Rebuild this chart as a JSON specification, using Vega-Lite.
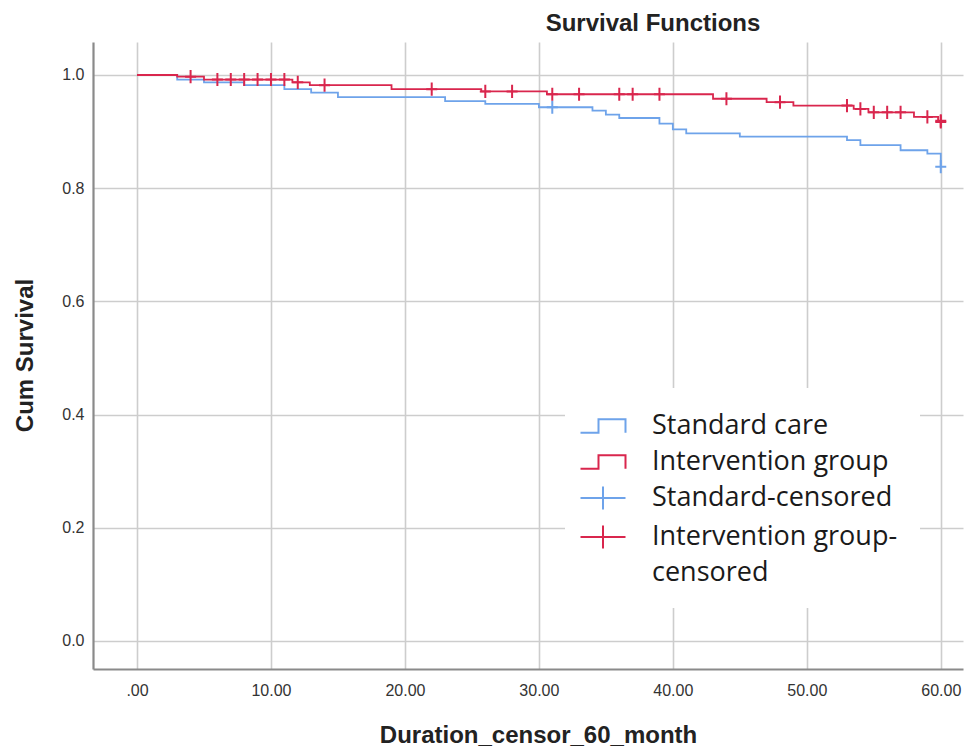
{
  "$schema": "https://vega.github.io/schema/vega-lite/v6.json",
  "autosize": {"type": "none"},
  "padding": {"left": 93, "top": 42, "right": 6, "bottom": 80},
  "width": 870,
  "height": 627,
  "background": "white",
  "title": {
    "text": "Survival Functions",
    "font": "Liberation Sans",
    "fontSize": 24,
    "fontWeight": "bold",
    "color": "#222222",
    "anchor": "middle",
    "dx": 125,
    "offset": 6
  },
  "config": {
    "view": {"stroke": null},
    "axis": {
      "labelFont": "Liberation Sans",
      "labelFontSize": 16,
      "labelColor": "#333333",
      "titleFont": "Liberation Sans",
      "titleFontSize": 24,
      "titleFontWeight": "bold",
      "titleColor": "#222222",
      "gridColor": "#cdcdcd",
      "gridWidth": 1.6,
      "domainColor": "#8a8a8a",
      "domainWidth": 2.2,
      "ticks": false
    }
  },
  "datasets": {
    "curves": [
      {"series": "Standard care", "t": 0, "s": 1.0},
      {"series": "Standard care", "t": 3, "s": 0.992},
      {"series": "Standard care", "t": 5, "s": 0.987},
      {"series": "Standard care", "t": 8, "s": 0.982},
      {"series": "Standard care", "t": 11, "s": 0.975},
      {"series": "Standard care", "t": 13, "s": 0.969},
      {"series": "Standard care", "t": 15, "s": 0.961},
      {"series": "Standard care", "t": 23, "s": 0.954},
      {"series": "Standard care", "t": 26, "s": 0.949},
      {"series": "Standard care", "t": 30, "s": 0.943},
      {"series": "Standard care", "t": 34, "s": 0.937},
      {"series": "Standard care", "t": 35, "s": 0.930},
      {"series": "Standard care", "t": 36, "s": 0.924},
      {"series": "Standard care", "t": 39, "s": 0.914},
      {"series": "Standard care", "t": 40, "s": 0.904},
      {"series": "Standard care", "t": 41, "s": 0.897},
      {"series": "Standard care", "t": 45, "s": 0.891},
      {"series": "Standard care", "t": 53, "s": 0.885},
      {"series": "Standard care", "t": 54, "s": 0.876},
      {"series": "Standard care", "t": 57, "s": 0.867},
      {"series": "Standard care", "t": 59, "s": 0.861},
      {"series": "Standard care", "t": 60, "s": 0.838},
      {"series": "Intervention group", "t": 0, "s": 1.0},
      {"series": "Intervention group", "t": 3, "s": 0.997},
      {"series": "Intervention group", "t": 5, "s": 0.992},
      {"series": "Intervention group", "t": 11.6, "s": 0.987},
      {"series": "Intervention group", "t": 12.9, "s": 0.982},
      {"series": "Intervention group", "t": 19, "s": 0.975},
      {"series": "Intervention group", "t": 25.7, "s": 0.971},
      {"series": "Intervention group", "t": 30.6, "s": 0.966},
      {"series": "Intervention group", "t": 43, "s": 0.958},
      {"series": "Intervention group", "t": 47, "s": 0.952},
      {"series": "Intervention group", "t": 49, "s": 0.946},
      {"series": "Intervention group", "t": 53.5, "s": 0.940},
      {"series": "Intervention group", "t": 54.6, "s": 0.934},
      {"series": "Intervention group", "t": 58, "s": 0.926},
      {"series": "Intervention group", "t": 59.8, "s": 0.919},
      {"series": "Intervention group", "t": 60, "s": 0.919}
    ],
    "censored": [
      {"series": "Standard-censored", "t": 31, "s": 0.943},
      {"series": "Standard-censored", "t": 60, "s": 0.838},
      {"series": "Intervention group-censored", "t": 4, "s": 0.997},
      {"series": "Intervention group-censored", "t": 6, "s": 0.992},
      {"series": "Intervention group-censored", "t": 7, "s": 0.992},
      {"series": "Intervention group-censored", "t": 8, "s": 0.992},
      {"series": "Intervention group-censored", "t": 9, "s": 0.992},
      {"series": "Intervention group-censored", "t": 10, "s": 0.992},
      {"series": "Intervention group-censored", "t": 11, "s": 0.992},
      {"series": "Intervention group-censored", "t": 12, "s": 0.987},
      {"series": "Intervention group-censored", "t": 14, "s": 0.982},
      {"series": "Intervention group-censored", "t": 22, "s": 0.975},
      {"series": "Intervention group-censored", "t": 26, "s": 0.971},
      {"series": "Intervention group-censored", "t": 28, "s": 0.971},
      {"series": "Intervention group-censored", "t": 31, "s": 0.966},
      {"series": "Intervention group-censored", "t": 33, "s": 0.966},
      {"series": "Intervention group-censored", "t": 36, "s": 0.966},
      {"series": "Intervention group-censored", "t": 37, "s": 0.966},
      {"series": "Intervention group-censored", "t": 39, "s": 0.966},
      {"series": "Intervention group-censored", "t": 44, "s": 0.958},
      {"series": "Intervention group-censored", "t": 48, "s": 0.952},
      {"series": "Intervention group-censored", "t": 53, "s": 0.946},
      {"series": "Intervention group-censored", "t": 54, "s": 0.940},
      {"series": "Intervention group-censored", "t": 55, "s": 0.934},
      {"series": "Intervention group-censored", "t": 56, "s": 0.934},
      {"series": "Intervention group-censored", "t": 57, "s": 0.934},
      {"series": "Intervention group-censored", "t": 59, "s": 0.926},
      {"series": "Intervention group-censored", "t": 60, "s": 0.919},
      {"series": "Intervention group-censored", "t": 60, "s": 0.917}
    ]
  },
  "encoding": {
    "x": {
      "field": "t",
      "type": "quantitative",
      "scale": {"domain": [-3.285, 61.66], "nice": false, "zero": false},
      "axis": {
        "title": "Duration_censor_60_month",
        "values": [0, 10, 20, 30, 40, 50, 60],
        "labelExpr": "datum.value == 0 ? '.00' : format(datum.value, '.2f')",
        "labelPadding": 13,
        "titleX": 445,
        "titleY": 66,
        "titleBaseline": "middle",
        "titleAnchor": null
      }
    },
    "y": {
      "field": "s",
      "type": "quantitative",
      "scale": {"domain": [-0.0495, 1.0583], "nice": false, "zero": false},
      "axis": {
        "title": "Cum Survival",
        "values": [0, 0.2, 0.4, 0.6, 0.8, 1.0],
        "format": ".1f",
        "labelPadding": 9,
        "titleX": -68,
        "titleY": 313,
        "titleAngle": 270,
        "titleBaseline": "middle",
        "titleAlign": "center"
      }
    },
    "color": {
      "field": "series",
      "type": "nominal",
      "scale": {
        "domain": ["Standard care", "Intervention group", "Standard-censored", "Intervention group-censored"],
        "range": ["#6ea3ea", "#d9264d", "#6ea3ea", "#d9264d"]
      },
      "legend": {
        "title": null,
        "orient": "none",
        "direction": "vertical",
        "legendX": 472,
        "legendY": 346,
        "padding": 22,
        "fillColor": "white",
        "strokeColor": null,
        "labelFont": "Open Sans",
        "labelFontSize": 27,
        "labelColor": "#1a1a1a",
        "labelLimit": 400,
        "labelOffset": 33,
        "symbolSize": 900,
        "symbolStrokeWidth": 2,
        "rowPadding": 7,
        "labelExpr": "datum.label == 'Intervention group-censored' ? ['Intervention group-', 'censored'] : datum.label",
        "encode": {
          "labels": {
            "update": {
              "lineHeight": {"value": 36}
            }
          },
          "symbols": {
            "update": {
              "shape": {"signal": "(datum.value == 'Standard care' || datum.value == 'Intervention group') ? 'M-1.5,0.45H-0.3V-0.45H1.5V0.45' : 'M-1.5,0H1.5M0,-0.77V0.77'"},
              "fill": {"value": "transparent"},
              "strokeWidth": {"value": 2}
            }
          }
        }
      }
    }
  },
  "layer": [
    {
      "data": {"name": "curves"},
      "mark": {"type": "line", "interpolate": "step-after", "strokeWidth": 1.8}
    },
    {
      "data": {"name": "censored"},
      "mark": {"type": "point", "shape": "M-1,0H1M0,-1.2V1.2", "size": 121, "filled": false, "strokeWidth": 2, "opacity": 1}
    }
  ]
}
